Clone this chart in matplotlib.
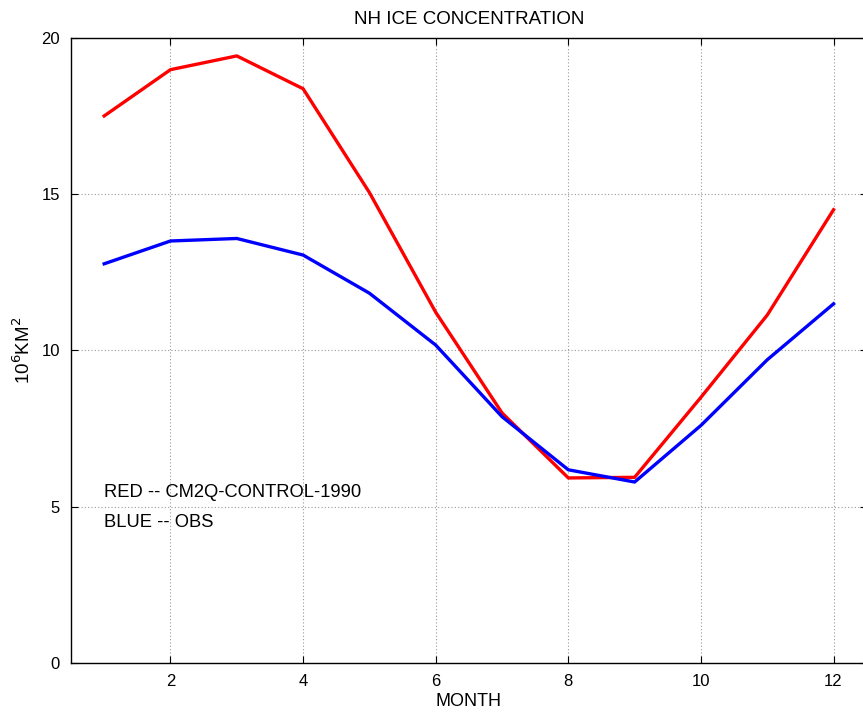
import matplotlib
matplotlib.use("Agg")
import matplotlib.pyplot as plt

plt.rcParams['font.family'] = ['Liberation Sans', 'DejaVu Sans']

# monthly NH ice extent, 10^6 km^2
months = [1, 2, 3, 4, 5, 6, 7, 8, 9, 10, 11, 12]
model = [17.5, 18.98, 19.42, 18.37, 15.05, 11.22, 8.0, 5.92, 5.94, 8.5, 11.13, 14.5]
obs = [12.77, 13.5, 13.58, 13.05, 11.83, 10.17, 7.88, 6.18, 5.79, 7.6, 9.7, 11.49]

xticks = [2, 4, 6, 8, 10, 12]
yticks = [0, 5, 10, 15, 20]

fig = plt.figure(figsize=(8.63, 7.17), dpi=100)
ax = fig.add_axes([0.0823, 0.0753, 0.922, 0.872])

ax.plot(months, model, color='red', lw=2.4)
ax.plot(months, obs, color='blue', lw=2.4)

ax.set_xlim(0.5, 12.5)
ax.set_ylim(0, 20)
ax.set_xticks(xticks)
ax.set_yticks(yticks)
ax.grid(True, linestyle=(0, (1, 2)), color='#999999', lw=0.8)
ax.tick_params(direction='in', length=5, labelsize=12, top=True, right=True, pad=8)
for s in ax.spines.values():
    s.set_linewidth(1.0)

ax.set_title('NH ICE CONCENTRATION', fontsize=13.5, pad=10)
ax.set_xlabel('MONTH', fontsize=13, labelpad=3)
ax.set_ylabel('10$^6$KM$^2$', fontsize=13.5, labelpad=5)

ax.text(1.0, 5.45, 'RED -- CM2Q-CONTROL-1990', fontsize=13.2, va='center')
ax.text(1.0, 4.5, 'BLUE -- OBS', fontsize=13.2, va='center')

fig.savefig('out.png', dpi=100)
